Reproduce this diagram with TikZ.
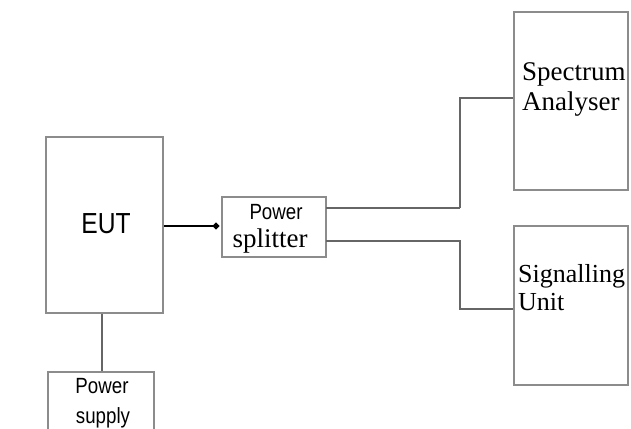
\documentclass[tikz,border=0pt]{standalone}
\usepackage{fontspec}
\setmainfont{Liberation Serif}
\newfontfamily\arialn[FakeStretch=0.85]{Liberation Sans}
\usetikzlibrary{arrows.meta}
\begin{document}
\begin{tikzpicture}[x=1pt,y=-1pt,
  box/.style={draw=black!45,line width=1.6pt,fill=white,inner sep=0pt},
  wire/.style={draw=black!60,line width=1.8pt},
  lbl/.style={inner sep=0pt,align=left}]
\useasboundingbox (0,0) rectangle (631,428);
% boxes
\node[box,minimum width=117pt,minimum height=176pt] (eut) at (104.5,225) {};
\node[box,minimum width=104pt,minimum height=60pt] (split) at (274,227) {};
\node[box,minimum width=114pt,minimum height=178pt] (sa) at (571,101) {};
\node[box,minimum width=114pt,minimum height=159pt] (su) at (571,305.5) {};
\node[box,minimum width=106pt,minimum height=80pt] (ps) at (101,412) {};
% labels
\node[lbl,anchor=base] (eutl) at (106,233) {\fontsize{29}{29}\arialn EUT};
\node[lbl,anchor=base] (splp) at (276,219) {\fontsize{22}{22}\arialn Power};
\node[lbl,anchor=base] (spls) at (270,247) {\fontsize{27}{27}\selectfont splitter};
\node[lbl,anchor=base west] (sal1) at (522,80) {\fontsize{27}{27}\selectfont Spectrum};
\node[lbl,anchor=base west] (sal2) at (522,110) {\fontsize{27}{27}\selectfont Analyser};
\node[lbl,anchor=base west] (sul1) at (518,282) {\fontsize{26}{26}\selectfont Signalling};
\node[lbl,anchor=base west] (sul2) at (518,310) {\fontsize{26}{26}\selectfont Unit};
\node[lbl,anchor=base] (psl1) at (102,393) {\fontsize{22}{22}\arialn Power};
\node[lbl,anchor=base] (psl2) at (103,423) {\fontsize{22}{22}\arialn supply};
% connector coordinates
\coordinate (a1) at (326,208);
\coordinate (a2) at (460,98);
\coordinate (b1) at (326,241);
\coordinate (b2) at (460,309);
% connectors
\draw[line width=2.8pt,-{Circle[length=6pt]}] (eut.east |- 0,226) -- (219,226);
\draw[wire,line width=2.6pt] (a1) -- (a1 -| a2);
\draw[wire] (a1 -| a2) -- (a2) -- (a2 -| sa.west);
\draw[wire] (b1) -- (b1 -| b2) -- (b2) -- (b2 -| su.west);
\draw[wire] (eut.south -| 102,0) -- (ps.north -| 102,0);
\end{tikzpicture}
\end{document}
